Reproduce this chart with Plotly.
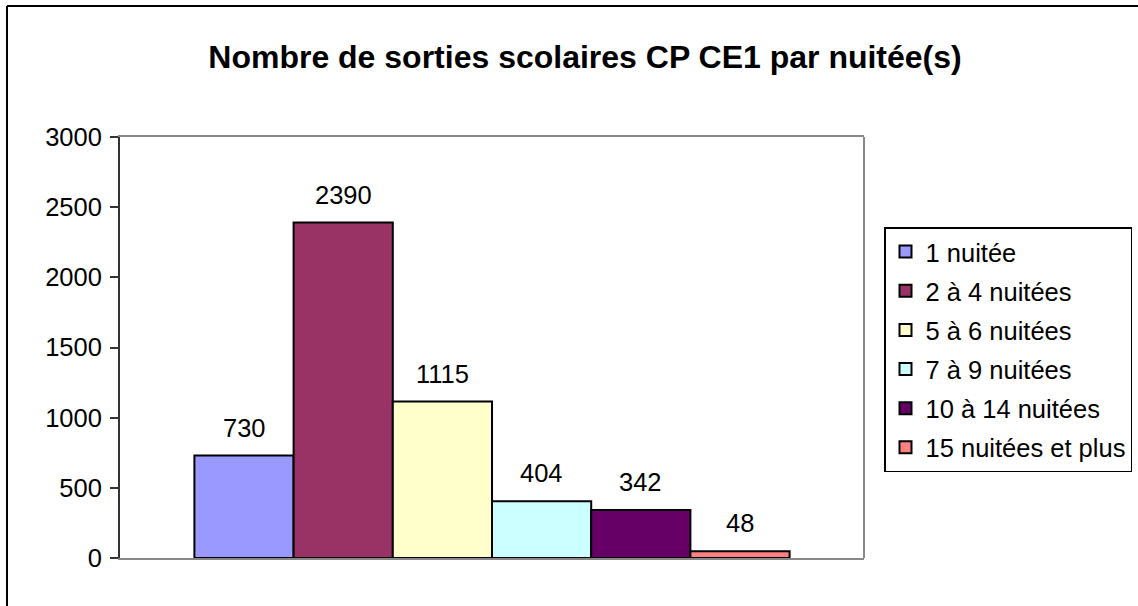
import plotly.graph_objects as go

# données
series = ["1 nuitée", "2 à 4 nuitées", "5 à 6 nuitées", "7 à 9 nuitées",
          "10 à 14 nuitées", "15 nuitées et plus"]
valeurs = [730, 2390, 1115, 404, 342, 48]
y_ticks = [0, 500, 1000, 1500, 2000, 2500, 3000]

couleurs = ["#9999FF", "#993366", "#FFFFCC", "#CCFFFF", "#660066", "#FF8080"]

W, H = 1138, 606
L, R, T, B = 120, 274, 137, 48
pw, ph = W - L - R, H - T - B
font = "Arial, Liberation Sans, sans-serif"
fs = 25.5
bargap = 0.2

fig = go.Figure()
for i, (nom, v) in enumerate(zip(series, valeurs)):
    fig.add_trace(go.Bar(
        x=[0], y=[v], name=nom, legendgroup=nom,
        marker=dict(color=couleurs[i], line=dict(color="black", width=2)),
        hoverinfo="name+y",
    ))

# étiquettes de valeurs au-dessus des barres
n = len(series)
largeur = (1 - bargap) / n
for i, v in enumerate(valeurs):
    fig.add_annotation(
        x=-(1 - bargap) / 2 + (i + 0.5) * largeur, y=v, xref="x", yref="y",
        text=str(v), showarrow=False, yanchor="middle", yshift=28,
        font=dict(size=fs, color="black", family=font),
    )

def px_x(p):
    return (p - L) / pw

def px_y(p):
    return (H - B - p) / ph

# cadre extérieur (gauche + haut) et bord droit de la zone de tracé
fig.add_shape(type="line", xref="paper", yref="paper",
              x0=px_x(7), x1=px_x(7), y0=px_y(6), y1=px_y(700),
              line=dict(color="black", width=2))
fig.add_shape(type="line", xref="paper", yref="paper",
              x0=px_x(7), x1=px_x(1200), y0=px_y(6), y1=px_y(6),
              line=dict(color="black", width=2))
fig.add_shape(type="line", xref="paper", yref="paper",
              x0=1, x1=1, y0=0, y1=1,
              line=dict(color="#888888", width=2))

fig.update_layout(
    width=W, height=H,
    margin=dict(l=L, r=R, t=T, b=B, autoexpand=False),
    paper_bgcolor="white", plot_bgcolor="white",
    barmode="group", bargap=bargap, bargroupgap=0,
    font=dict(family=font, size=fs, color="black"),
    title=dict(text="<b>Nombre de sorties scolaires CP CE1 par nuitée(s)</b>",
               x=585 / W, xanchor="center", y=1 - 57 / H, yanchor="middle",
               font=dict(size=32, family=font, color="black")),
    xaxis=dict(range=[-0.5, 0.5], showticklabels=False, ticks="",
               showgrid=False, zeroline=False, showline=True,
               linecolor="#888888", linewidth=2, mirror=True, fixedrange=True),
    yaxis=dict(range=[0, 3000], tickvals=y_ticks, showgrid=False,
               zeroline=False, showline=True, linecolor="#333333", linewidth=2,
               ticks="outside", ticklen=8, tickwidth=1.5, tickcolor="#333333",
               ticklabelstandoff=3,
               tickfont=dict(size=fs, family=font, color="black")),
    legend=dict(x=px_x(884), y=px_y(227), xanchor="left", yanchor="top",
                xref="paper", yref="paper",
                bordercolor="black", borderwidth=1.5, bgcolor="white",
                traceorder="grouped", tracegroupgap=3, itemwidth=30,
                font=dict(size=fs, family=font, color="black")),
    showlegend=True,
)

# pas de marge autour de la page
fig.write_html("out.html", config={"displayModeBar": False},
               post_script="document.body.style.margin='0';")
